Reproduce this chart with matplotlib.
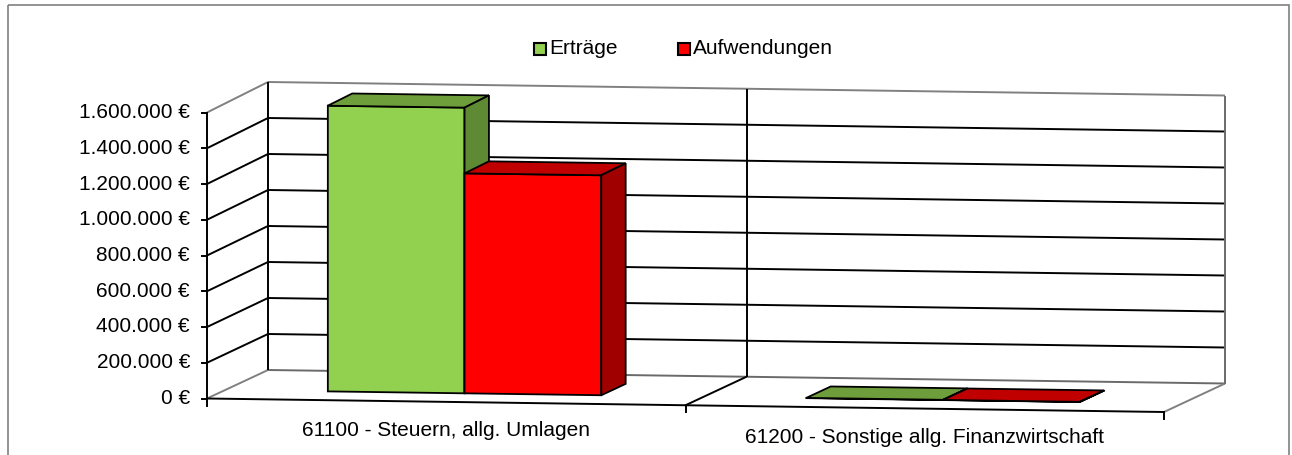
import matplotlib.pyplot as plt
from matplotlib.patches import Polygon, Rectangle

plt.rcParams['font.family'] = ['Liberation Sans', 'DejaVu Sans']

# data
categories = ["61100 - Steuern, allg. Umlagen", "61200 - Sonstige allg. Finanzwirtschaft"]
series_names = ["Erträge", "Aufwendungen"]
ertraege = [1595000, 1500]
aufwendungen = [1228000, 900]
y_ticks = [0, 200000, 400000, 600000, 800000, 1000000, 1200000, 1400000, 1600000]

VMAX = 1600000
front_col = ["#92D050", "#FF0000"]
top_col = ["#6E9E3C", "#C00000"]
side_col = ["#5E8A34", "#A00000"]


def proj(x, z, v):
    # oblique 3d look: x across categories (0..1), z depth (0..1), v value
    px = 207 + 957 * x + 61 * z
    py = 398.5 + 13.5 * x - 28.5 * z - v * (286 + 2 * z) / VMAX
    return px, py


def line(ax, pts, color="black", lw=1.4, z=2):
    xs, ys = zip(*[proj(*p) for p in pts])
    ax.plot(xs, ys, color=color, lw=lw, zorder=z, solid_capstyle="butt")


def face(ax, pts, color, z=5):
    ax.add_patch(Polygon([proj(*p) for p in pts], closed=True, facecolor=color,
                         edgecolor="black", lw=1.3, joinstyle="miter", zorder=z))


fig = plt.figure(figsize=(12.92, 4.55), dpi=100)
ax = fig.add_axes([0, 0, 1, 1])
ax.set_xlim(0, 1292)
ax.set_ylim(455, 0)
ax.axis("off")

# outer frame
ax.add_patch(Rectangle((8, 5), 1281, 460, fill=False, edgecolor="#808080", lw=1.2, zorder=1))

# walls and gridlines
for v in y_ticks[1:-1]:
    line(ax, [(0, 0, v), (0, 1, v)])
    line(ax, [(0, 1, v), (1, 1, v)])
line(ax, [(0, 0, VMAX), (0, 1, VMAX)], color="#808080")
line(ax, [(0, 1, VMAX), (1, 1, VMAX)], color="#808080")
line(ax, [(0, 0, 0), (0, 1, 0)], color="#808080")
line(ax, [(0, 1, 0), (1, 1, 0)], color="#6a6a6a")
line(ax, [(1, 0, 0), (1, 1, 0)], color="#808080")
line(ax, [(1, 1, 0), (1, 1, VMAX)], color="#6a6a6a")
line(ax, [(0, 1, 0), (0, 1, VMAX)])
line(ax, [(0.5, 1, 0), (0.5, 1, VMAX)])
line(ax, [(0.5, 0, 0), (0.5, 1, 0)])
line(ax, [(0, 0, 0), (1, 0, 0)])
line(ax, [(0, 0, 0), (0, 0, VMAX)])

# value axis ticks and labels
for v in y_ticks:
    px, py = proj(0, 0, v)
    ax.plot([px - 5, px], [py, py], color="black", lw=1.4, zorder=2)
    label = f"{v:,.0f}".replace(",", ".") + " €"
    ax.text(px - 17, py, label, ha="right", va="center", fontsize=15)

# category ticks and labels
for x in [0, 0.5, 1]:
    px, py = proj(x, 0, 0)
    ax.plot([px, px], [py, py + 7], color="black", lw=1.4, zorder=2)
for i, cat in enumerate(categories):
    px, py = proj(0.25 + 0.5 * i, 0, 0)
    ax.text(px, py + 29, cat, ha="center", va="center", fontsize=15)

# bars
cat_w = 0.5
bar_w = cat_w / 3.5
z0, z1 = 0.3, 0.7
for i in range(len(categories)):
    for j, vals in enumerate([ertraege, aufwendungen]):
        v = vals[i]
        x0 = i * cat_w + bar_w * (0.75 + j)
        x1 = x0 + bar_w
        zo = 5 + i * 3 + j
        face(ax, [(x0, z0, 0), (x1, z0, 0), (x1, z0, v), (x0, z0, v)], front_col[j], zo)
        face(ax, [(x0, z0, v), (x1, z0, v), (x1, z1, v), (x0, z1, v)], top_col[j], zo)
        face(ax, [(x1, z0, 0), (x1, z1, 0), (x1, z1, v), (x1, z0, v)], side_col[j], zo)

# legend
for name, col, lx in zip(series_names, front_col, [534, 678]):
    ax.add_patch(Rectangle((lx, 43), 12, 12, facecolor=col, edgecolor="black", lw=1.5, zorder=3))
    ax.text(lx + 15, 49, name, ha="left", va="center", fontsize=15)

fig.savefig("out.png", dpi=100)
